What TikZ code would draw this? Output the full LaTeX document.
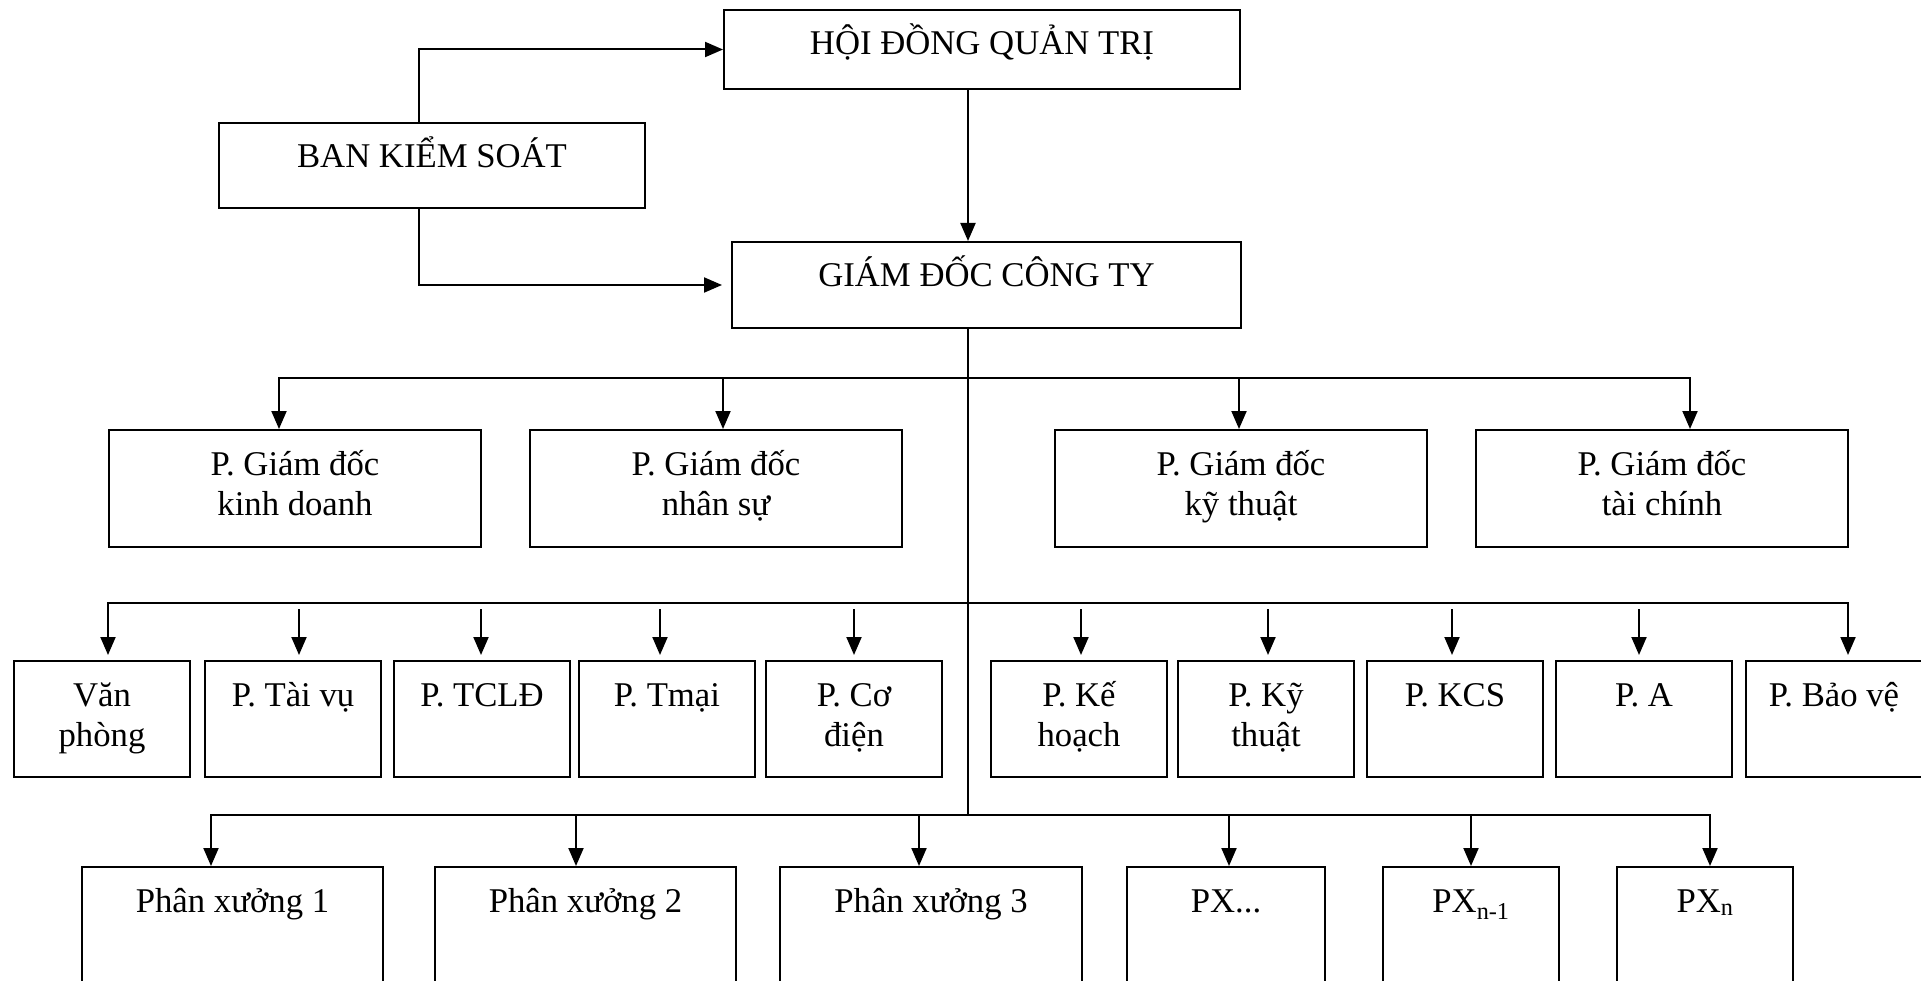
\documentclass[tikz,border=0pt]{standalone}
\usepackage{fontspec}
\setmainfont{Liberation Serif}
\usepackage{tikz}
\usetikzlibrary{arrows.meta, positioning}
\newcommand{\chartfont}{\fontsize{34.7}{40}\selectfont}
\tikzstyle{unit} = [rectangle, draw=black, line width=2pt, anchor=north west,
 align=center, inner sep=0pt, text height=45pt, font=\chartfont]
\tikzstyle{board} = [unit, minimum width=516pt, text depth=34pt]
\tikzstyle{control} = [unit, minimum width=426pt, text depth=40pt]
\tikzstyle{director} = [unit, minimum width=509pt, text depth=41pt]
\tikzstyle{deputy} = [unit, minimum width=372pt, text height=85pt, text depth=32pt]
\tikzstyle{dept} = [unit, minimum width=176pt, text depth=71pt]
\tikzstyle{dept2} = [dept, text height=85pt, text depth=31pt]
\tikzstyle{shop} = [unit, text depth=95pt]
\tikzstyle{arrow} = [line width=2pt, -{Triangle[length=18pt, width=15pt]}]
\tikzstyle{line} = [line width=2pt, line cap=rect]
\begin{document}
\begin{tikzpicture}[x=1pt, y=-1pt]
\useasboundingbox (0,0) rectangle (1921,981);
\clip (0,0) rectangle (1921,981);
\node(hdqt) [board] at (723,9) {HỘI ĐỒNG QUẢN TRỊ};
\node(bks) [control] at (218,122) {BAN KIỂM SOÁT};
\node(gd) [director] at (731,241) {GIÁM ĐỐC CÔNG TY};
\node(pkd) [deputy] at (108,429) {P. Giám đốc\\kinh doanh};
\node(pns) [deputy, right=47pt of pkd] {P. Giám đốc\\nhân sự};
\node(pkt) [deputy] at (1054,429) {P. Giám đốc\\kỹ thuật};
\node(ptc) [deputy, right=47pt of pkt] {P. Giám đốc\\tài chính};
\node(vp) [dept2] at (13,660) {Văn\\phòng};
\node(tv) [dept, right=13pt of vp] {P. Tài vụ};
\node(tcld) [dept, right=11pt of tv] {P. TCLĐ};
\node(tm) [dept, right=7pt of tcld] {P. Tmại};
\node(cd) [dept2, right=9pt of tm] {P. Cơ\\điện};
\node(kh) [dept2] at (990,660) {P. Kế\\hoạch};
\node(kt) [dept2, right=9pt of kh] {P. Kỹ\\thuật};
\node(kcs) [dept, right=11pt of kt] {P. KCS};
\node(pa) [dept, right=11pt of kcs] {P. A};
\node(bv) [dept, right=12pt of pa] {P. Bảo vệ};
\node(px1) [shop, minimum width=301pt] at (81,866) {Phân xưởng 1};
\node(px2) [shop, minimum width=301pt, right=50pt of px1] {Phân xưởng 2};
\node(px3) [shop, minimum width=302pt, right=42pt of px2] {Phân xưởng 3};
\node(pxd) [shop, minimum width=198pt, right=43pt of px3] {PX...};
\node(pxm) [shop, minimum width=176pt, right=56pt of pxd] {PX\textsubscript{n-1}};
\node(pxn) [shop, minimum width=176pt, right=56pt of pxm] {PX\textsubscript{n}};
\coordinate(trunk) at (968,0);
\coordinate(side) at (419,0);
\coordinate(bus4) at (968,815);
\draw[arrow] (bks.north -| side) |- (hdqt.west);
\draw[arrow, shorten >=9pt] (bks.south -| side) |- (gd.west);
\draw[arrow] (hdqt.south -| trunk) -- (gd.north -| trunk);
\draw[line] (gd.south -| trunk) -- (bus4);
\foreach \x/\n in {279/pkd, 723/pns, 1239/pkt, 1690/ptc}
 {\coordinate(d-\n) at (\x,378);
  \draw[arrow] (d-\n) -- (d-\n |- \n.north);}
\draw[line] (d-pkd) -- (d-ptc);
\foreach \x/\n in {108/vp, 299/tv, 481/tcld, 660/tm, 854/cd,
 1081/kh, 1268/kt, 1452/kcs, 1639/pa, 1848/bv}
 {\coordinate(d-\n) at (\x,603);}
\draw[line] (d-vp) -- (d-bv);
\draw[arrow, shorten >=5pt] (d-vp) -- (d-vp |- vp.north);
\draw[arrow, shorten >=5pt] (d-bv) -- (d-bv |- bv.north);
\foreach \n in {tv, tcld, tm, cd, kh, kt, kcs, pa}
 \draw[arrow, shorten <=6pt, shorten >=5pt] (d-\n) -- (d-\n |- \n.north);
\foreach \x/\n in {211/px1, 576/px2, 919/px3, 1229/pxd, 1471/pxm, 1710/pxn}
 {\coordinate(d-\n) at (\x,815);
  \draw[arrow] (d-\n) -- (d-\n |- \n.north);}
\draw[line] (d-px1) -- (d-pxn);
\end{tikzpicture}
\end{document}
